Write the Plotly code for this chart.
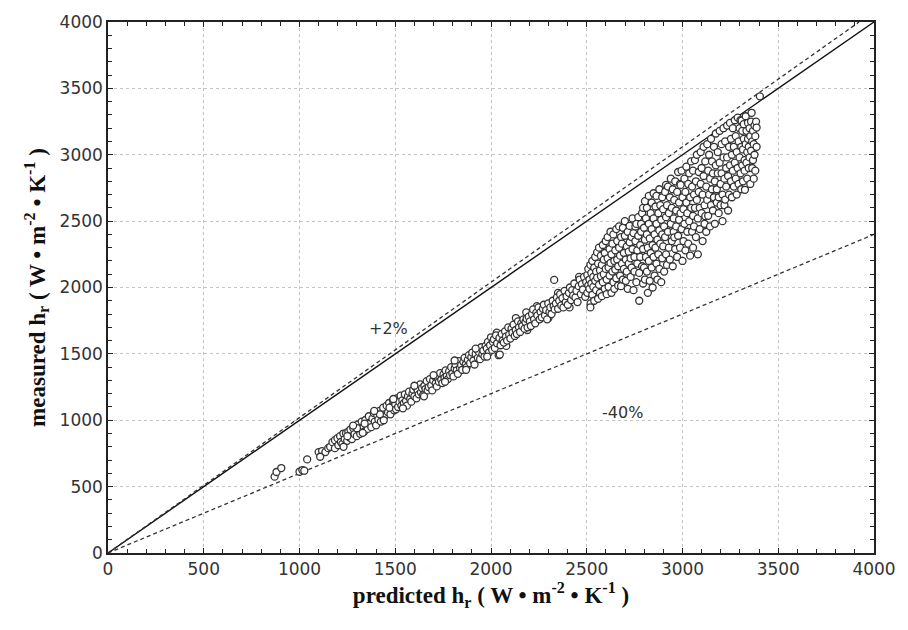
import plotly.graph_objects as go

# Rows: (predicted, measured_1, measured_2, ...)
rows = [
    (870,575),(880,610),(905,640),(1000,612),(1015,625),(1025,620),(1040,705),(1100,760),(1118,768),(1135,760),(1108,725),(1150,790),
    (1160,800),(1172,835),(1185,790,850),(1198,865),(1203,812),(1212,880),(1216,836),(1224,822),(1229,900),(1236,858),(1243,903),
    (1249,845),(1255,915),(1262,870),(1266,930),(1274,858),(1281,940),(1287,895),(1293,952),(1299,880),(1305,968),(1312,925),(1317,898),
    (1325,990),(1330,940),(1338,915),(1344,1002),(1350,968),(1356,935),(1362,1030),(1368,975),(1375,948),(1381,1012),(1388,1055),(1393,990),
    (1400,962),(1406,1040),(1412,1005),(1418,1070),(1425,990),(1430,1055),(1437,1095),(1442,1025),(1450,1040),(1455,1110),(1462,1060),
    (1468,1130),(1475,1045),(1481,1105),(1488,1150),(1494,1075),(1340,975),(1420,1045),(1470,1095),(1250,880),(1300,940),
    (1500,1120),(1504,1082),(1509,1165),(1515,1100),(1521,1140),(1528,1185),(1532,1110),(1537,1150),(1545,1128),(1550,1195),
    (1556,1145),(1561,1110),(1566,1180),(1572,1215),(1578,1160),(1584,1140),(1590,1200),(1594,1230),(1600,1180),(1606,1250),(1611,1165),
    (1617,1225),(1623,1195),(1630,1270),(1634,1210),(1640,1242),(1646,1190),(1652,1260),(1658,1235),(1664,1295),(1669,1225),
    (1675,1250),(1681,1310),(1688,1262),(1693,1225),(1698,1300),(1705,1330),(1711,1278),(1717,1255),(1722,1320),(1728,1290),
    (1734,1355),(1740,1305),(1746,1280),(1752,1345),(1757,1320),(1763,1375),(1769,1332),(1775,1310),(1781,1368),(1786,1340),
    (1792,1400),(1798,1352),(1804,1330),(1810,1390),(1815,1420),(1821,1375),(1827,1350),(1833,1445),(1838,1395),(1844,1415),
    (1850,1380),(1856,1440),(1862,1470),(1868,1420),(1873,1400),(1879,1455),(1885,1490),(1891,1430),(1897,1475),(1902,1510),
    (1908,1450),(1914,1420),(1920,1500),(1926,1535),(1931,1470),(1937,1515),(1943,1460),(1949,1550),(1955,1498),(1960,1525),
    (1966,1480),(1972,1560),(1978,1540),(1984,1590),(1989,1510),(1995,1565),(2000,1625),
    (1230,800),(1280,960),(1330,905),(1390,1070),(1440,1000),(1490,1160),(1540,1090),(1600,1260),(1650,1180),(1700,1340),
    (1760,1290),(1810,1450),(1870,1380),(1920,1540),(1980,1480),(2030,1660),(2080,1560),(2130,1770),(2190,1680),(2240,1860),
    (2300,1770),(2350,1960),(2410,1850),(2460,2080),(2520,1880),
    (2006,1530),(2010,1590),(2015,1610),(2020,1545),(2026,1640),(2032,1580),(2040,1490),(2046,1495),(2044,1620),
    (2050,1565),(2056,1650),(2061,1600),(2067,1585),(2073,1670),(2078,1630),(2084,1600),(2090,1700),(2095,1645),
    (2101,1615),(2107,1690),(2112,1660),(2118,1720),(2124,1635),(2129,1680),(2135,1650),(2141,1745),(2146,1700),
    (2152,1665),(2158,1730),(2163,1710),(2169,1760),(2175,1690),(2180,1740),(2184,1813),(2186,1765),(2191,1700),
    (2197,1780),(2203,1745),(2208,1710),(2214,1800),(2220,1835),(2225,1760),(2231,1730),(2237,1810),(2242,1790),
    (2248,1850),(2254,1760),(2259,1815),(2265,1775),(2271,1840),(2276,1870),(2282,1790),(2288,1830),(2293,1760),
    (2299,1880),(2305,1815),(2310,1850),(2316,1800),(2322,1900),(2327,1860),(2330,2057),(2333,1835),(2339,1880),(2344,1925),
    (2350,1840),(2356,1900),(2361,1950),(2367,1865),(2373,1920),(2378,1850),(2384,1975),(2390,1890),(2395,1935),
    (2401,1870),(2407,1960),(2412,2000),(2418,1905),(2424,1980),(2429,1940),(2435,2030),(2441,1925),(2446,1975),
    (2452,1890),(2458,2010),(2463,2060),(2469,1950),(2475,2025),(2480,1985),(2486,2080),(2492,1930),(2497,2040),
    (2503,2095,1960),(2508,2140,2015),(2514,1990,2060),(2519,2170,1850),(2524,2030,2110),(2529,1945,2200),(2534,2080,2005),
    (2539,2150,1900),(2544,2230,2050),(2549,1980,2120),(2554,2265,2075),(2559,1915,2180),(2564,2020,2300),(2569,2130,1960),
    (2574,2240,2085),(2579,1935,2170),(2584,2320,2040),(2589,2100,2210),(2594,1990,2260),(2599,2140,2350),(2604,2060,1950),
    (2609,2220,2380),(2614,2005,2150),(2619,2290,2090),(2624,2420,2185),(2629,1960,2250),(2634,2120,2330),(2639,2040,2400),
    (2644,2200,1990),(2649,2280,2135),(2654,2440,2070),(2659,2350,2210),(2664,2015,2160),(2669,2300,2460),(2674,2090,2240),
    (2679,2380,2010),(2684,2180,2330),(2689,2450,2060),(2694,2260,2140),(2699,2390,2500),(2704,2050,2210),(2709,2310,2120),
    (2714,2420,1990),(2719,2180,2270),(2724,2464,2340),(2729,2080,2220),(2734,2380,2150),(2739,2290,2520),(2744,1980,2410),
    (2749,2230,2120),(2754,2350,2460),(2759,2479,2040),(2764,2280,2180),(2769,2530,2390),(2774,1900,2110),(2779,2320,2230),
    (2784,2479,2420),(2789,2160,2560),
    (2794,2030,2290,2600),(2799,2450,2150),(2804,2360,2650,2060),(2809,2230,2520),(2814,2120,2400,2600),(2819,2300,1960),
    (2824,2480,2200,2690),(2829,2050,2370),(2834,2560,2260),(2839,2150,2440,2640),(2844,2320,2000),(2849,2520,2230,2710),
    (2854,2090,2400),(2859,2610,2300),(2864,2180,2480,2690),(2869,2360,2060),(2874,2560,2250),(2879,2140,2430,2740),
    (2884,2330,2620),(2889,2040,2510),(2894,2220,2680,2400),(2899,2590,2310),(2904,2120,2460),(2909,2380,2720),
    (2914,2773,2250,2530),(2919,2620,2170),(2924,2420,2760),(2929,2300,2560),(2934,2680,2210),(2939,2480,2820),
    (2944,2350,2600),(2949,2160,2740),(2954,2520,2420),(2957,2378,2660),(2962,2290,2800),(2967,2580,2460),(2972,2230,2720),
    (2977,2390,2870),(2982,2640,2510),(2987,2300,2780),(2990,2773,2560),(2995,2440,2880),(3000,2200,2680),(3005,2590,2350),
    (3010,2820,2480),(3015,2280,2720),(3020,2640,2910),(3025,2420,2560),(3030,2780,2330),(3035,2500,2860),(3040,2680,2240),
    (3045,2950,2600),(3050,2420,2760),
    (3055,2540,2880,2300),(3060,2700,2460),(3065,2960,2600),(3070,2380,2800),(3075,2660,3000),(3080,2520,2250),(3085,2870,2720),
    (3090,2440,2600),(3095,3020,2780),(3100,2560,2900),(3105,2350,2700),(3110,2840,3060),(3115,2620,2480),(3119,2537,2950),
    (3124,2760,2420),(3129,3080,2660),(3134,2880,2540),(3139,2700,3000),(3144,2460,2820),(3149,3120,2620),(3154,2740,2950),
    (3159,2580,2860),(3164,3060,2680),(3169,2480,2800),(3174,3160,2920),(3179,2640,2740),(3184,3020,2860),(3189,2560,2680),
    (3194,3180,2940),(3199,2780,2620),(3204,3080,2860),(3209,2700,2500),(3214,2980,3200),(3219,2820,2620),(3223,2662,3100),
    (3228,2900,2760),(3233,3220,2980),(3238,2840,2580),(3243,3060,2700),(3248,2920,3240),
    (3253,2800,3120),(3258,3000,2680),(3263,3200,2880),(3268,2760,3060),(3273,3260,2940),(3278,2820,3140),(3283,3020,2700),
    (3288,3280,2900),(3293,2780,3100),(3298,3200,2980),(3303,2860,3260),(3307,3060,2740),(3309,3257),(3312,3180,2920),
    (3316,2800,3040),(3320,3230,3120),(3324,2880,2960),(3326,2736),(3330,3290,3080),(3334,2940,3180),(3338,2820,3020),
    (3342,3240,3120),(3346,2900,3060),(3350,3200,2980),(3354,2780,3140),(3358,3250,3030),(3361,3316),(3364,2900,3100),
    (3368,3180,2960),(3372,3080,2820),(3376,3220,3000),(3380,3140,2880),(3384,3250),(3387,3205,3060),(3404,3440),
]
predicted = [r[0] for r in rows for _ in r[1:]]
measured = [v for r in rows for v in r[1:]]

line_x = [0, 4000]
line_equal = [0, 4000]
line_plus2_x = [0, 3922]
line_plus2 = [0, 4000]
line_minus40 = [0, 2400]

label_plus2 = ("+2%", 1464, 1694)
label_minus40 = ("-40%", 2686, 1057)

fig = go.Figure()
fig.add_trace(go.Scatter(x=line_x, y=line_equal, mode="lines",
                         line=dict(color="#111", width=1.4), showlegend=False))
fig.add_trace(go.Scatter(x=line_plus2_x, y=line_plus2, mode="lines",
                         line=dict(color="#333", width=1.3, dash="4px,3px"), showlegend=False))
fig.add_trace(go.Scatter(x=line_x, y=line_minus40, mode="lines",
                         line=dict(color="#333", width=1.3, dash="4px,3px"), showlegend=False))
fig.add_trace(go.Scatter(x=predicted, y=measured, mode="markers",
                         marker=dict(symbol="circle", size=7, color="white",
                                     line=dict(color="#333", width=1.3)),
                         showlegend=False))

for txt, x, y in (label_plus2, label_minus40):
    fig.add_annotation(x=x, y=y, text=txt, showarrow=False,
                       font=dict(family="DejaVu Sans, Arial, sans-serif", size=16, color="#333"))

axis_common = dict(
    range=[0, 4000], dtick=500, tick0=0,
    showgrid=True, gridcolor="#c4c4c4", griddash="dot", gridwidth=1,
    showline=True, linecolor="#222", linewidth=1.5, mirror="ticks",
    ticks="inside", ticklen=5, tickcolor="#222", tickwidth=1,
    minor=dict(dtick=100, ticks="inside", ticklen=4, tickcolor="#222", tickwidth=1, showgrid=False),
    zeroline=False,
    tickfont=dict(family="DejaVu Sans, Arial, sans-serif", size=17, color="#333"),
)

title_font = dict(family="Liberation Serif, Times New Roman, serif", size=23, color="#111")
fig.update_xaxes(**axis_common,
                 title=dict(text="<b>predicted h<sub>r</sub> ( W • m<sup>-2</sup> • K<sup>-1</sup> )</b>",
                            font=title_font, standoff=6))
fig.update_yaxes(**axis_common,
                 title=dict(text="<b>measured h<sub>r</sub> ( W • m<sup>-2</sup> • K<sup>-1</sup> )</b>",
                            font=title_font, standoff=8))

fig.update_layout(
    width=908, height=630,
    margin=dict(l=108, r=24, t=13, b=77),
    plot_bgcolor="white", paper_bgcolor="white",
)

fig.write_html("out.html")
